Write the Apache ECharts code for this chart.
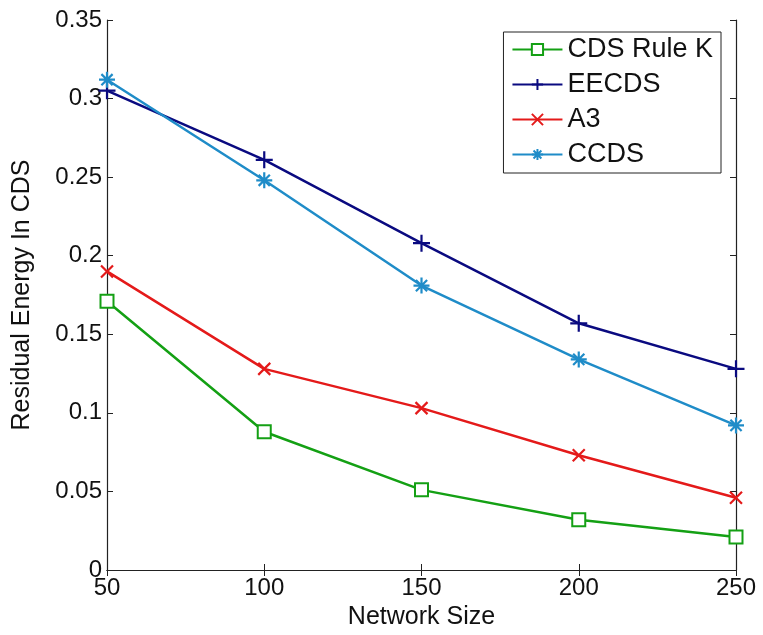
<!DOCTYPE html>
<html><head><meta charset="utf-8">
<script src="https://cdn.jsdelivr.net/npm/echarts@6/dist/echarts.min.js"></script>
<style>html,body{margin:0;padding:0;background:#fff}#c{width:763px;height:635px}</style>
</head><body><div id="c"></div>
<script>
const categories = [50, 100, 150, 200, 250];
const cdsRuleK = [0.171, 0.088, 0.051, 0.032, 0.021];
const eecds = [0.305, 0.261, 0.208, 0.157, 0.128];
const a3 = [0.190, 0.128, 0.103, 0.073, 0.046];
const ccds = [0.312, 0.248, 0.181, 0.134, 0.092];
const seriesNames = ['CDS Rule K', 'EECDS', 'A3', 'CCDS'];

const FONT = 'Liberation Sans';
const plusPath = 'path://M5,0L5,10M0,5L10,5';
const xPath = 'path://M0,0L10,10M0,10L10,0';
const starPath = 'path://M5,0L5,10M0,5L10,5M1.5,1.5L8.5,8.5M1.5,8.5L8.5,1.5';

function mk(name, data, color, symbol, size) {
  return {
    name, type: 'line', data: categories.map((c, i) => [c, data[i]]),
    symbol, symbolSize: size, showSymbol: true,
    lineStyle: { color, width: 2.5 },
    itemStyle: { color: symbol === 'emptyRect' ? color : 'none', borderColor: color, borderWidth: 2.2 },
    emphasis: { disabled: true }, z: 3
  };
}
const chart = echarts.init(document.getElementById('c'));
chart.setOption({
  animation: false,
  backgroundColor: '#fff',
  grid: { left: 107, right: 27, top: 20, bottom: 65 },
  legend: {
    data: seriesNames, orient: 'vertical', right: 42, top: 32,
    borderColor: '#222', borderWidth: 1, backgroundColor: '#fff',
    padding: [4, 8, 5, 8], itemGap: 8, itemWidth: 50, itemHeight: 14,
    textStyle: { fontFamily: FONT, fontSize: 27, color: '#111' }
  },
  xAxis: [{
    type: 'value', min: 50, max: 250, interval: 50,
    name: 'Network Size', nameLocation: 'middle', nameGap: 34,
    nameTextStyle: { fontFamily: FONT, fontSize: 25, color: '#111' },
    axisLine: { lineStyle: { color: '#222', width: 1.2 } },
    axisTick: { inside: true, length: 6, lineStyle: { color: '#222' } },
    axisLabel: { fontFamily: FONT, fontSize: 24, color: '#111', margin: 6 },
    splitLine: { show: false }
  }, {
    type: 'value', min: 50, max: 250, interval: 50, position: 'top',
    axisLine: { lineStyle: { color: '#222', width: 1.2 } },
    axisTick: { inside: true, length: 6, lineStyle: { color: '#222' } },
    axisLabel: { show: false }, splitLine: { show: false }
  }],
  yAxis: [{
    type: 'value', min: 0, max: 0.35, interval: 0.05,
    name: 'Residual Energy In CDS', nameLocation: 'middle', nameGap: 72,
    nameTextStyle: { fontFamily: FONT, fontSize: 25, color: '#111' },
    axisLine: { show: true, lineStyle: { color: '#222', width: 1.2 } },
    axisTick: { show: true, inside: true, length: 6, lineStyle: { color: '#222' } },
    axisLabel: { fontFamily: FONT, fontSize: 24, color: '#111', margin: 5 },
    splitLine: { show: false }
  }, {
    type: 'value', min: 0, max: 0.35, interval: 0.05, position: 'right',
    axisLine: { show: true, lineStyle: { color: '#222', width: 1.2 } },
    axisTick: { show: true, inside: true, length: 6, lineStyle: { color: '#222' } },
    axisLabel: { show: false }, splitLine: { show: false }
  }],
  series: [
    mk('CDS Rule K', cdsRuleK, '#14a014', 'emptyRect', 13),
    mk('EECDS', eecds, '#0a0a80', plusPath, 17),
    mk('A3', a3, '#e41a1a', xPath, 12),
    mk('CCDS', ccds, '#1f8cc8', starPath, 16)
  ]
});
</script></body></html>
